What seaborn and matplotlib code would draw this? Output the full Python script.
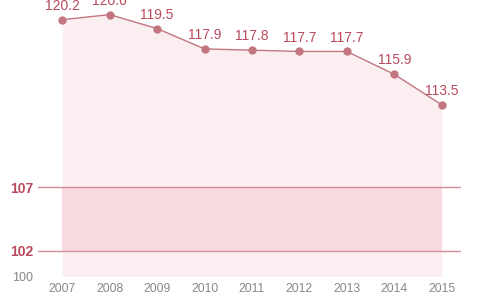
import matplotlib
matplotlib.use("Agg")
import matplotlib.pyplot as plt
import seaborn as sns
import pandas as pd

years = [2007, 2008, 2009, 2010, 2011, 2012, 2013, 2014, 2015]
values = [120.2, 120.6, 119.5, 117.9, 117.8, 117.7, 117.7, 115.9, 113.5]
ref_lines = [107, 102]
y_ticks = [100, 102, 107]

sns.set_theme(style="white")
plt.rcParams['font.family'] = ['Liberation Sans', 'DejaVu Sans']

df = pd.DataFrame({"year": years, "value": values})

fig = plt.figure(figsize=(4.8, 3.0), dpi=100)
ax = fig.add_axes([38.3 / 480, (300 - 276.3) / 300, (460.7 - 38.3) / 480, 276.3 / 300])

line_c = "#c27680"
lab_c = "#b84a5c"

ax.fill_between(df["year"], 100, df["value"], color="#fbeef0", lw=0, zorder=1)
ax.fill_between(df["year"], ref_lines[1], ref_lines[0], color="#f7dbdf", lw=0, zorder=1.5)
for r in ref_lines:
    ax.axhline(r, color="#d38e98", lw=1.0, zorder=2)
ax.axhline(100, color="#f0eeee", lw=1.0, zorder=2)

sns.lineplot(data=df, x="year", y="value", ax=ax, color=line_c, lw=1.0,
             marker="o", markersize=6, markeredgewidth=0, zorder=3)

for x, y in zip(years, values):
    ax.annotate(f"{y:.1f}", (x, y), xytext=(0, 5), textcoords="offset points",
                ha="center", va="bottom", color=lab_c, fontsize=10,
                annotation_clip=False)

ax.set_xlim(2006.494, 2015.4)
ax.set_ylim(100, 121.75)
ax.set_xticks(years)
ax.set_xticklabels([str(y) for y in years], color="#888888", fontsize=8.8)
ax.set_yticks(y_ticks)
ax.set_yticklabels([str(t) for t in y_ticks])
for t, v in zip(ax.get_yticklabels(), y_ticks):
    if v == 100:
        t.set_color("#888888"); t.set_fontsize(9)
    else:
        t.set_color(lab_c); t.set_fontsize(10); t.set_fontweight("bold")
ax.tick_params(axis="both", length=0)
ax.tick_params(axis="y", pad=3.6)
ax.tick_params(axis="x", pad=5)
ax.set_xlabel("")
ax.set_ylabel("")
for s in ax.spines.values():
    s.set_visible(False)
ax.patch.set_alpha(0)

fig.savefig("out.png", dpi=100)
